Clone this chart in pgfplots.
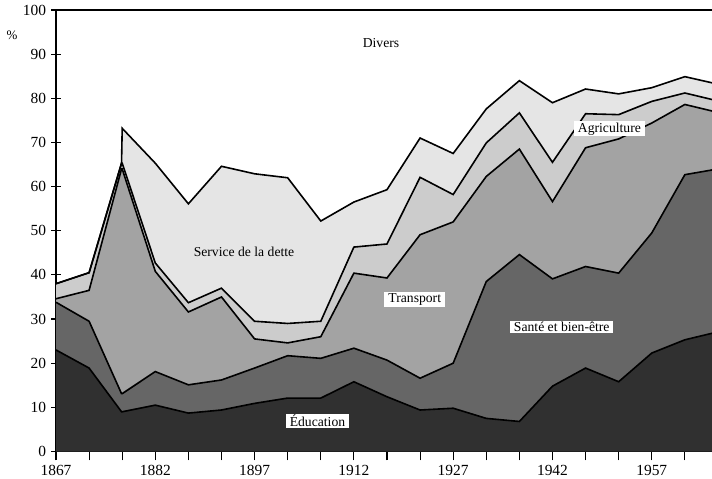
\documentclass[border=0pt]{standalone}
\usepackage{pgfplots}
\pgfplotsset{compat=1.18}
\usepgfplotslibrary{fillbetween}
\usepackage{pgfplotstable}
\usetikzlibrary{calc}
\usepackage{fontspec}
\setmainfont{Liberation Serif}
\definecolor{cE}{gray}{0.19}
\definecolor{cS}{gray}{0.40}
\definecolor{cT}{gray}{0.64}
\definecolor{cA}{gray}{0.80}
\definecolor{cD}{gray}{0.90}
\pgfplotstableread{
year E S T A D
1867 23.0 33.8 34.6 38.0 38.0
1872 18.9 29.5 36.5 40.5 40.5
1876.9 9.0 13.1 64.0 65.3 65.3
1877 9.0 13.1 64.0 65.3 73.2
1882 10.5 18.1 40.8 42.7 65.3
1887 8.7 15.1 31.6 33.7 56.1
1892 9.4 16.2 35.0 37.0 64.6
1897 10.9 18.9 25.5 29.5 62.9
1902 12.1 21.7 24.6 29.0 62.0
1907 12.1 21.1 26.0 29.5 52.2
1912 15.8 23.4 40.4 46.3 56.5
1917 12.4 20.7 39.3 47.0 59.3
1922 9.4 16.6 49.1 62.1 71.0
1927 9.8 20.0 52.0 58.2 67.5
1932 7.5 38.5 62.3 69.9 77.6
1937 6.8 44.6 68.5 76.7 84.0
1942 14.8 39.1 56.6 65.5 79.0
1947 18.9 41.9 68.8 76.5 82.1
1952 15.8 40.4 70.8 76.3 81.0
1957 22.3 49.5 74.4 79.3 82.4
1962 25.3 62.7 78.6 81.2 84.9
1967 27.1 64.0 76.8 79.4 83.2
}\data
\begin{document}
\begin{tikzpicture}
\begin{axis}[
  scale only axis, width=656bp, height=441.5bp,
  xmin=1867, xmax=1966.1, ymin=0, ymax=100,
  axis x line*=bottom, axis y line*=left,
  axis line style={-, line width=1.5bp},
  xtick={1867,1882,...,1957},
  minor xtick={1872,1877,1887,1892,1902,1907,1917,1922,1932,1937,1947,1952,1962},
  ytick={0,10,...,100},
  xtick align=outside, ytick align=center,
  major tick length=9bp, minor tick length=9bp,
  tick style={black, line width=1.1bp},
  tick label style={font=\fontsize{15.5}{18}\selectfont},
  /pgf/number format/assume math mode=true,
  /pgf/number format/1000 sep={},
  xticklabel style={yshift=-1bp},
  yticklabel style={xshift=-2bp},
]
\addplot[draw=none, name path=E] table[x=year,y=E]{\data};
\addplot[draw=none, name path=S] table[x=year,y=S]{\data};
\addplot[draw=none, name path=T] table[x=year,y=T]{\data};
\addplot[draw=none, name path=A] table[x=year,y=A]{\data};
\addplot[draw=none, name path=D] table[x=year,y=D]{\data};
\path[name path=Z] (axis cs:1867,0) -- (axis cs:1967,0);
\addplot[fill=cE, draw=none] fill between[of=Z and E];
\addplot[fill=cS, draw=none] fill between[of=E and S];
\addplot[fill=cT, draw=none] fill between[of=S and T];
\addplot[fill=cA, draw=none] fill between[of=T and A];
\addplot[fill=cD, draw=none] fill between[of=A and D];
\addplot[black, line width=1.6bp, line join=miter] table[x=year,y=E]{\data};
\addplot[black, line width=1.6bp, line join=miter] table[x=year,y=S]{\data};
\addplot[black, line width=1.6bp, line join=miter] table[x=year,y=T]{\data};
\addplot[black, line width=1.6bp, line join=miter] table[x=year,y=A]{\data};
\addplot[black, line width=1.6bp, line join=miter] table[x=year,y=D]{\data};
\tikzset{lab/.style={fill=white, inner xsep=4bp, inner ysep=1.5bp, font=\fontsize{13.7}{16}\selectfont}}
\node[font=\fontsize{13.7}{16}\selectfont] at (axis cs:1916.1,92.6) {Divers};
\node[font=\fontsize{13.7}{16}\selectfont] at (axis cs:1895.4,45.3) {Service de la dette};
\node[lab] at (axis cs:1921.2,34.4) {Transport};
\node[lab] at (axis cs:1943.4,28.2) {Santé et bien-être};
\node[lab] at (axis cs:1906.5,6.9) {Éducation};
\node[lab] at (axis cs:1950.6,73.1) {Agriculture};
\end{axis}
\draw[line width=1.5bp] (current axis.north west) -- (current axis.north east);
\node[font=\fontsize{13}{15}\selectfont] at ($(current axis.north west)+(-44bp,-25bp)$) {\%};
\pgfresetboundingbox
\path ($(current axis.south west)+(-56bp,-27.5bp)$) rectangle ($(current axis.north east)+(0bp,10bp)$);
\end{tikzpicture}
\end{document}
